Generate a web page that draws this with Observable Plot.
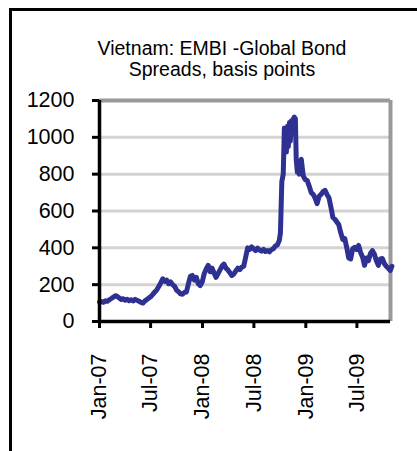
<!DOCTYPE html>
<html>
<head>
<meta charset="utf-8">
<script src="https://cdn.jsdelivr.net/npm/d3@7"></script>
<script src="https://cdn.jsdelivr.net/npm/@observablehq/plot@0.6"></script>
<style>
  html, body { margin: 0; padding: 0; background: #fff; }
  #wrap { position: relative; width: 417px; height: 451px; overflow: hidden; font-family: "Liberation Sans", Arial, sans-serif; }
  #frame { position: absolute; left: 9px; top: 8px; width: 420px; height: 460px; border-top: 3px solid #000; border-left: 3px solid #000; box-sizing: border-box; pointer-events: none; }
  #title { position: absolute; left: 0; top: 0; width: 444px; height: 88px; box-sizing: border-box; padding-top: 38px; text-align: center; font-size: 19.5px; line-height: 21px; color: #000; }
  #chart { position: absolute; left: 0; top: 88px; }
  #chart svg { overflow: visible; }
</style>
</head>
<body>
<div id="wrap">
  <div id="frame"></div>
  <div id="title">Vietnam: EMBI -Global Bond<br>Spreads, basis points</div>
  <div id="chart"></div>
</div>
<script>
// Categories / tick labels
const xTickDates = ["2007-01-01","2007-07-01","2008-01-01","2008-07-01","2009-01-01","2009-07-01"];
const yTicks = [0, 200, 400, 600, 800, 1000, 1200];
const xDomain = ["2007-01-01", "2009-10-28"];

// Series: Vietnam EMBI Global spread (bp)
const dates = [
"2007-01-01","2007-01-08","2007-01-15","2007-01-22","2007-01-29","2007-02-05","2007-02-12","2007-02-19","2007-02-26","2007-03-05",
"2007-03-12","2007-03-19","2007-03-26","2007-04-02","2007-04-09","2007-04-16","2007-04-23","2007-04-30","2007-05-07","2007-05-14",
"2007-05-21","2007-05-28","2007-06-04","2007-06-11","2007-06-18","2007-06-25","2007-07-02","2007-07-09","2007-07-16","2007-07-23",
"2007-07-30","2007-08-06","2007-08-13","2007-08-20","2007-08-27","2007-09-03","2007-09-10","2007-09-17","2007-09-24","2007-10-01",
"2007-10-08","2007-10-15","2007-10-22","2007-10-29","2007-11-05","2007-11-12","2007-11-19","2007-11-26","2007-12-03","2007-12-10",
"2007-12-17","2007-12-24","2007-12-31",
"2008-01-07","2008-01-14","2008-01-21","2008-01-28","2008-02-04","2008-02-11","2008-02-18","2008-02-25","2008-03-03","2008-03-10",
"2008-03-17","2008-03-24","2008-03-31","2008-04-07","2008-04-14","2008-04-21","2008-04-28","2008-05-05","2008-05-12","2008-05-19",
"2008-05-26","2008-06-02","2008-06-09","2008-06-16","2008-06-23","2008-06-30","2008-07-07","2008-07-14","2008-07-21","2008-07-28",
"2008-08-04","2008-08-11","2008-08-18","2008-08-25","2008-09-01","2008-09-08","2008-09-15","2008-09-22","2008-09-29","2008-10-03",
"2008-10-08","2008-10-13","2008-10-17","2008-10-21","2008-10-24","2008-10-28","2008-10-31","2008-11-04","2008-11-07","2008-11-11",
"2008-11-14","2008-11-18","2008-11-21","2008-11-25","2008-11-28","2008-12-02","2008-12-05","2008-12-09","2008-12-12","2008-12-16",
"2008-12-19","2008-12-23","2008-12-30",
"2009-01-06","2009-01-13","2009-01-20","2009-01-27","2009-02-03","2009-02-10","2009-02-17","2009-02-24","2009-03-03","2009-03-10",
"2009-03-17","2009-03-24","2009-03-31","2009-04-07","2009-04-14","2009-04-21","2009-04-28","2009-05-05","2009-05-12","2009-05-19",
"2009-05-26","2009-06-02","2009-06-09","2009-06-16","2009-06-23","2009-06-30","2009-07-07","2009-07-14","2009-07-21","2009-07-28",
"2009-08-04","2009-08-11","2009-08-18","2009-08-25","2009-09-01","2009-09-08","2009-09-15","2009-09-22","2009-09-29","2009-10-06",
"2009-10-13","2009-10-20","2009-10-27","2009-11-02"
];
const spreads = [
105,108,104,112,110,118,125,132,140,136,
128,120,124,116,121,113,118,112,120,115,
110,104,100,112,120,128,135,148,160,172,
190,210,232,218,225,205,215,200,192,170,
162,150,148,158,160,205,245,250,225,240,
205,195,215,
260,285,305,270,290,262,240,260,280,300,
312,290,280,265,250,258,275,290,282,295,
300,350,400,392,405,395,385,398,388,382,
392,380,385,378,390,395,410,415,440,480,
760,800,1050,1000,920,1060,950,1080,980,1090,
1040,1100,1110,1100,880,810,830,800,860,880,
840,790,770,
765,735,700,690,670,640,680,690,705,712,
690,672,620,565,555,540,525,480,445,450,
400,345,340,395,402,390,413,375,350,305,
345,330,370,385,365,330,305,340,342,315,
300,290,277,300
];

const data = dates.map((d, i) => ({date: new Date(d), value: spreads[i]}));
const x0 = new Date(xDomain[0]);
const x1 = new Date(xDomain[1]);
const fmt = d3.utcFormat("%b-%y");

const chart = Plot.plot({
  width: 417,
  height: 363,
  marginTop: 12,
  marginBottom: 130,
  marginLeft: 99,
  marginRight: 27,
  style: {fontFamily: "'Liberation Sans', Arial, sans-serif", fontSize: "21.5px", color: "#000", background: "transparent", overflow: "visible"},
  x: {type: "utc", domain: [x0, x1], ticks: xTickDates.map(d => new Date(d)), tickFormat: fmt, tickRotate: -90, tickSize: 7, tickPadding: 25, label: null},
  y: {domain: [0, 1200], ticks: yTicks, tickFormat: d => String(d), tickSize: 7, tickPadding: 18, label: null},
  marks: [
    Plot.ruleY(yTicks.filter(t => t > 0 && t < 1200), {stroke: "#d3d3d3", strokeWidth: 3}),
    Plot.ruleY([1200], {stroke: "#999999", strokeWidth: 4}),
    Plot.ruleX([x1], {stroke: "#999999", strokeWidth: 4, y1: 0, y2: 1200}),
    Plot.line(data, {x: "date", y: "value", stroke: "#2E3192", strokeWidth: 5, strokeLinejoin: "round"}),
    Plot.ruleX([x0], {stroke: "#000", strokeWidth: 3.5, y1: 0, y2: 1200}),
    Plot.ruleY([0], {stroke: "#000", strokeWidth: 3.5, x1: x0, x2: x1})
  ]
});
document.getElementById("chart").appendChild(chart);
// thicken tick marks
chart.querySelectorAll('[aria-label="x-axis tick"] path, [aria-label="y-axis tick"] path, [aria-label="x-axis"] .tick line, [aria-label="y-axis"] .tick line').forEach(p => {
  p.setAttribute("stroke-width", "3");
  p.setAttribute("stroke", "#000");
});
</script>
</body>
</html>
